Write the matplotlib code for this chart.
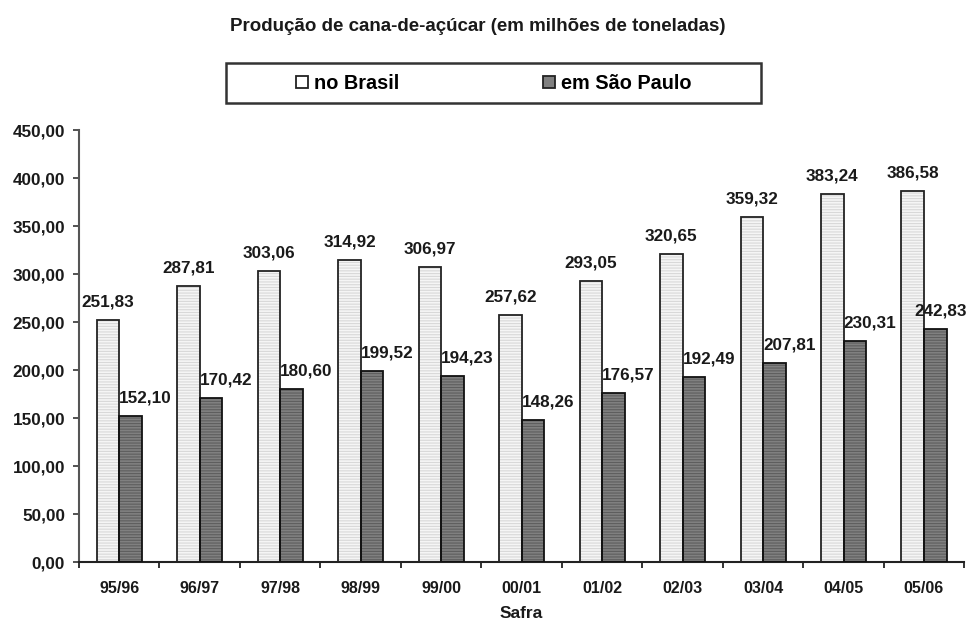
import numpy as np
import matplotlib.pyplot as plt
from matplotlib.lines import Line2D
from matplotlib.patches import Rectangle

plt.rcParams['font.family'] = ['Liberation Sans', 'DejaVu Sans']
plt.rcParams['font.weight'] = 'bold'
plt.rcParams['hatch.linewidth'] = 0.8

safras = ['95/96', '96/97', '97/98', '98/99', '99/00', '00/01',
          '01/02', '02/03', '03/04', '04/05', '05/06']
brasil = [251.83, 287.81, 303.06, 314.92, 306.97, 257.62,
          293.05, 320.65, 359.32, 383.24, 386.58]
sao_paulo = [152.10, 170.42, 180.60, 199.52, 194.23, 148.26,
             176.57, 192.49, 207.81, 230.31, 242.83]

# deslocamento horizontal (pt) dos rótulos de São Paulo
desloc_sp = [0, 0, 0, 0, 0, 0, 0, 0, 0, 0, -7]


def fmt(v):
    return f'{v:.2f}'.replace('.', ',')


fig = plt.figure(figsize=(9.72, 6.2), dpi=100)
ax = fig.add_axes([0.0813, 0.0935, 0.9107, 0.6965])

x = np.arange(len(safras))
w = 0.28

# barras com listras horizontais + contorno separado
ax.bar(x - w / 2, brasil, w, color='#f5f5f5', edgecolor='#d8d8d8',
       hatch='------', linewidth=0, zorder=2)
ax.bar(x - w / 2, brasil, w, fill=False, edgecolor='#222222',
       linewidth=1.3, zorder=3)
ax.bar(x + w / 2, sao_paulo, w, color='#808080', edgecolor='#5e5e5e',
       hatch='------', linewidth=0, zorder=2)
ax.bar(x + w / 2, sao_paulo, w, fill=False, edgecolor='#111111',
       linewidth=1.3, zorder=3)

for i in range(len(safras)):
    ax.annotate(fmt(brasil[i]), (x[i] - w / 2, brasil[i]),
                xytext=(0, 13), textcoords='offset points',
                ha='center', va='center', fontsize=12.3, color='#1a1a1a')
    ax.annotate(fmt(sao_paulo[i]), (x[i], sao_paulo[i]),
                xytext=(desloc_sp[i], 13), textcoords='offset points',
                ha='left', va='center', fontsize=12.3, color='#1a1a1a')

ax.set_xlim(-0.5, len(safras) - 0.5)
ax.set_ylim(0, 450)
ax.set_yticks(np.arange(0, 451, 50))
ax.set_yticklabels([fmt(v) for v in np.arange(0, 451, 50)], fontsize=12.3,
                   color='#1a1a1a')
ax.set_xticks(x)
ax.set_xticklabels(safras, fontsize=11.5, color='#1a1a1a')
ax.set_xticks(np.arange(-0.5, len(safras)), minor=True)
ax.tick_params(axis='x', which='major', length=0, pad=14)
ax.tick_params(axis='x', which='minor', length=4, width=1.3,
               color='#222222', direction='out')
ax.tick_params(axis='y', length=4, width=1.3, color='#444444', pad=6)

for s in ['top', 'right']:
    ax.spines[s].set_visible(False)
ax.spines['left'].set_color('#555555')
ax.spines['left'].set_linewidth(1.5)
ax.spines['bottom'].set_color('#222222')
ax.spines['bottom'].set_linewidth(1.5)

ax.set_xlabel('Safra', fontsize=12.5, fontweight='bold', labelpad=7,
              color='#1a1a1a')

fig.text(0.492, 0.958, 'Produção de cana-de-açúcar (em milhões de toneladas)',
         ha='center', va='center', fontsize=13.5, color='#1a1a1a')

# caixa da legenda
fig.patches.append(Rectangle((0.2325, 0.834), 0.5504, 0.0645,
                             transform=fig.transFigure, fill=False,
                             edgecolor='#333333', linewidth=1.8))
handles = [
    Line2D([], [], linestyle='none', marker='s', markersize=9,
           markerfacecolor='white', markeredgecolor='#222222',
           markeredgewidth=1.3),
    Line2D([], [], linestyle='none', marker='s', markersize=9,
           markerfacecolor='#808080', markeredgecolor='#222222',
           markeredgewidth=1.3),
]
fig.legend(handles, ['no Brasil', 'em São Paulo'], ncol=2, frameon=False,
           loc='center', bbox_to_anchor=(0.508, 0.866), fontsize=14.3,
           handlelength=0.6, handletextpad=0.3, columnspacing=7.2)

fig.savefig('out.png', dpi=100)
